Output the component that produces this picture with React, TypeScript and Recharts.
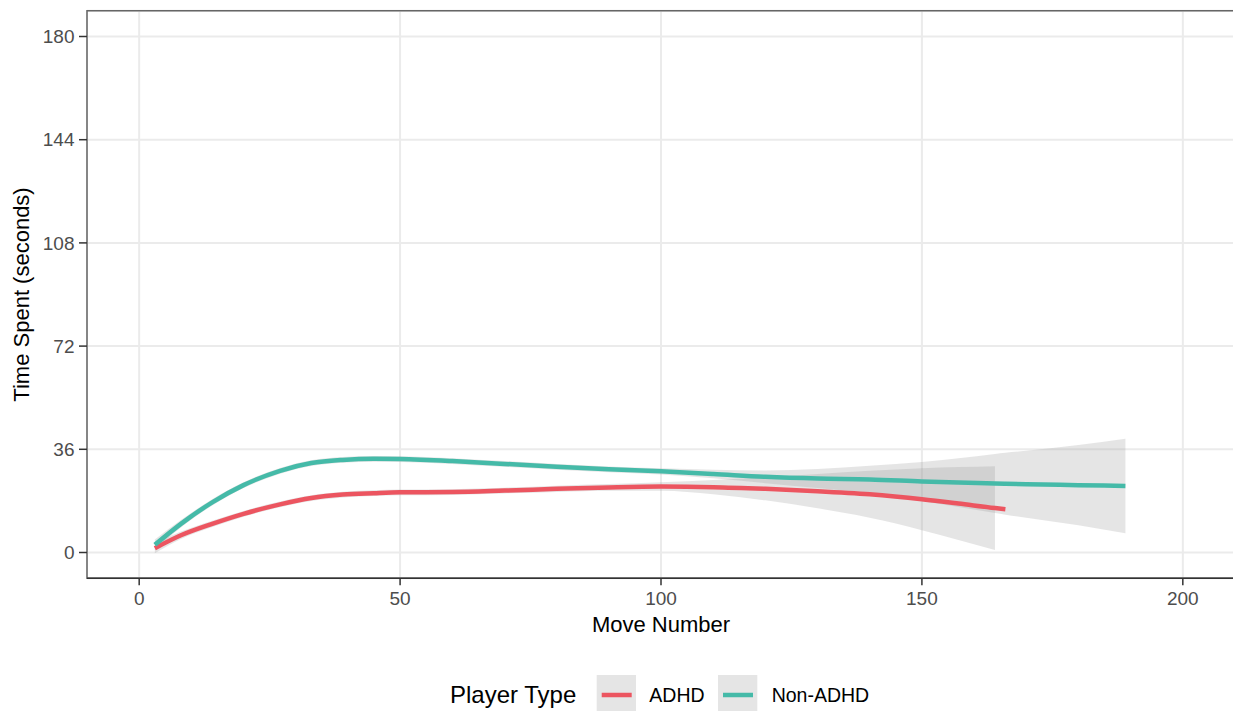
import {
  ComposedChart, Line, Area,
  XAxis, YAxis, CartesianGrid,
  ReferenceArea, Legend,
} from "recharts";

// (loess fits with confidence bands)
const moveNumbers = [3, 8, 14, 20, 27, 33, 39, 45, 50, 60, 70, 80, 90, 100, 110, 120, 130, 140, 150, 157, 164, 166, 170, 180, 189];

const adhdTime = [1.5, 6.0, 10.0, 13.5, 16.8, 19.0, 20.2, 20.7, 21.0, 21.1, 21.6, 22.2, 22.7, 23.0, 22.8, 22.2, 21.4, 20.3, 18.6, 17.1, 15.5, 15.1, null, null, null];
const adhdLower = [-0.3, 4.7, 8.9, 12.5, 15.8, 18.0, 19.2, 19.7, 20.0, 20.1, 20.6, 21.1, 21.5, 21.5, 20.3, 18.2, 15.4, 12.1, 7.8, 4.4, 0.9, null, null, null, null];
const adhdUpper = [3.3, 7.3, 11.1, 14.5, 17.8, 20.0, 21.2, 21.7, 22.0, 22.1, 22.6, 23.3, 23.9, 24.5, 25.3, 26.2, 27.4, 28.5, 29.4, 29.8, 30.1, null, null, null, null];

const nonAdhdTime = [2.7, 10.0, 17.5, 23.5, 28.5, 31.2, 32.3, 32.7, 32.6, 31.9, 30.9, 29.9, 29.0, 28.3, 27.4, 26.4, 25.8, 25.5, 24.8, 24.4, 24.1, 24.0, 23.8, 23.5, 23.2];
const nonAdhdLower = [0.9, 8.7, 16.4, 22.5, 27.5, 30.2, 31.3, 31.7, 31.6, 30.9, 29.9, 28.9, 28.0, 27.2, 25.9, 24.2, 22.5, 20.7, 18.0, 15.9, 13.8, 13.2, 12.1, 9.5, 6.7];
const nonAdhdUpper = [4.5, 11.3, 18.6, 24.5, 29.5, 32.2, 33.3, 33.7, 33.6, 32.9, 31.9, 30.9, 30.0, 29.4, 28.9, 28.6, 29.1, 30.3, 31.6, 32.9, 34.4, 34.8, 35.5, 37.5, 39.7];

const xTicks = [0, 50, 100, 150, 200];
const yTicks = [0, 36, 72, 108, 144, 180];

const RED = "#ec5560";
const TEAL = "#45baa8";
const FONT = "'Liberation Sans', Arial, sans-serif";

const rows = moveNumbers.map((m, i) => ({
  move: m,
  adhd: adhdTime[i],
  nonAdhd: nonAdhdTime[i],
  adhdBand: adhdLower[i] == null ? null : [adhdLower[i], adhdUpper[i]],
  nonAdhdBand: [nonAdhdLower[i], nonAdhdUpper[i]],
}));

function XTick({ x, y, payload }: any) {
  return (
    <text x={x} y={y} dy="0.71em" textAnchor="middle" fontSize={19} fill="#4d4d4d" fontFamily={FONT}>
      {payload.value}
    </text>
  );
}

function YTick({ x, y, payload }: any) {
  return (
    <text x={x} y={y} dy="0.355em" textAnchor="end" fontSize={19} fill="#4d4d4d" fontFamily={FONT}>
      {payload.value}
    </text>
  );
}

function XTitle({ viewBox }: any) {
  const { x, y, width } = viewBox;
  return (
    <text x={x + width / 2} y={y + 53.4} textAnchor="middle" fontSize={22} fill="#000" fontFamily={FONT}>
      Move Number
    </text>
  );
}

function YTitle({ viewBox }: any) {
  const { y, height } = viewBox;
  const cx = 29;
  const cy = y + height / 2;
  return (
    <text x={cx} y={cy} textAnchor="middle" fontSize={22} fill="#000" fontFamily={FONT} transform={`rotate(-90, ${cx}, ${cy})`}>
      Time Spent (seconds)
    </text>
  );
}

function LegendBox() {
  return (
    <svg width={1233} height={45} style={{ display: "block" }}>
      <text x={450} y={35} fontSize={24} fill="#000" fontFamily={FONT}>Player Type</text>
      <rect x={596.7} y={7} width={39.3} height={39} fill="#999" fillOpacity={0.25} />
      <line x1={601.7} x2={631.7} y1={27} y2={27} stroke={RED} strokeWidth={4.5} />
      <text x={649.3} y={34} fontSize={19.5} fill="#000" fontFamily={FONT}>ADHD</text>
      <rect x={718} y={7} width={39.3} height={39} fill="#999" fillOpacity={0.25} />
      <line x1={723} x2={753} y1={27} y2={27} stroke={TEAL} strokeWidth={4.5} />
      <text x={771.7} y={34} fontSize={19.5} fill="#000" fontFamily={FONT}>Non-ADHD</text>
    </svg>
  );
}

export default function App() {
  return (
    <div style={{ position: "absolute", left: 0, top: 0, width: 1233, height: 711, overflow: "hidden", background: "#fff" }}>
      <ComposedChart
        width={1240}
        height={711}
        data={rows}
        margin={{ top: 10.7, right: 5, bottom: 92.7, left: 0 }}
      >
        <CartesianGrid stroke="#ebebeb" strokeWidth={2} />
        <XAxis
          type="number"
          dataKey="move"
          domain={[-10, 210]}
          ticks={xTicks}
          allowDataOverflow
          height={40}
          tickSize={7}
          tickMargin={6.4}
          tick={<XTick />}
          axisLine={{ stroke: "#333", strokeWidth: 1.5 }}
          tickLine={{ stroke: "#333", strokeWidth: 1.5 }}
          label={<XTitle />}
        />
        <YAxis
          type="number"
          domain={[-9, 189]}
          ticks={yTicks}
          allowDataOverflow
          width={87}
          tickSize={8}
          tickMargin={4.5}
          tick={<YTick />}
          axisLine={false}
          tickLine={{ stroke: "#333", strokeWidth: 1.5 }}
          label={<YTitle />}
        />
        <ReferenceArea x1={-10} x2={210} y1={-9} y2={189} fill="none" stroke="#666" strokeWidth={1.5} />

        <Area dataKey="adhdBand" type="monotone" fill="#999" fillOpacity={0.25} stroke="none" isAnimationActive={false} />
        <Line dataKey="adhd" type="monotone" stroke={RED} strokeWidth={4.5} dot={false} activeDot={false} isAnimationActive={false} />
        <Area dataKey="nonAdhdBand" type="monotone" fill="#999" fillOpacity={0.25} stroke="none" isAnimationActive={false} />
        <Line dataKey="nonAdhd" type="monotone" stroke={TEAL} strokeWidth={4.5} dot={false} activeDot={false} isAnimationActive={false} />

        <Legend
          layout="horizontal"
          verticalAlign="middle"
          content={() => <LegendBox />}
          wrapperStyle={{ position: "absolute", left: 0, top: 668, width: 1233, height: 45 }}
        />
      </ComposedChart>
    </div>
  );
}
